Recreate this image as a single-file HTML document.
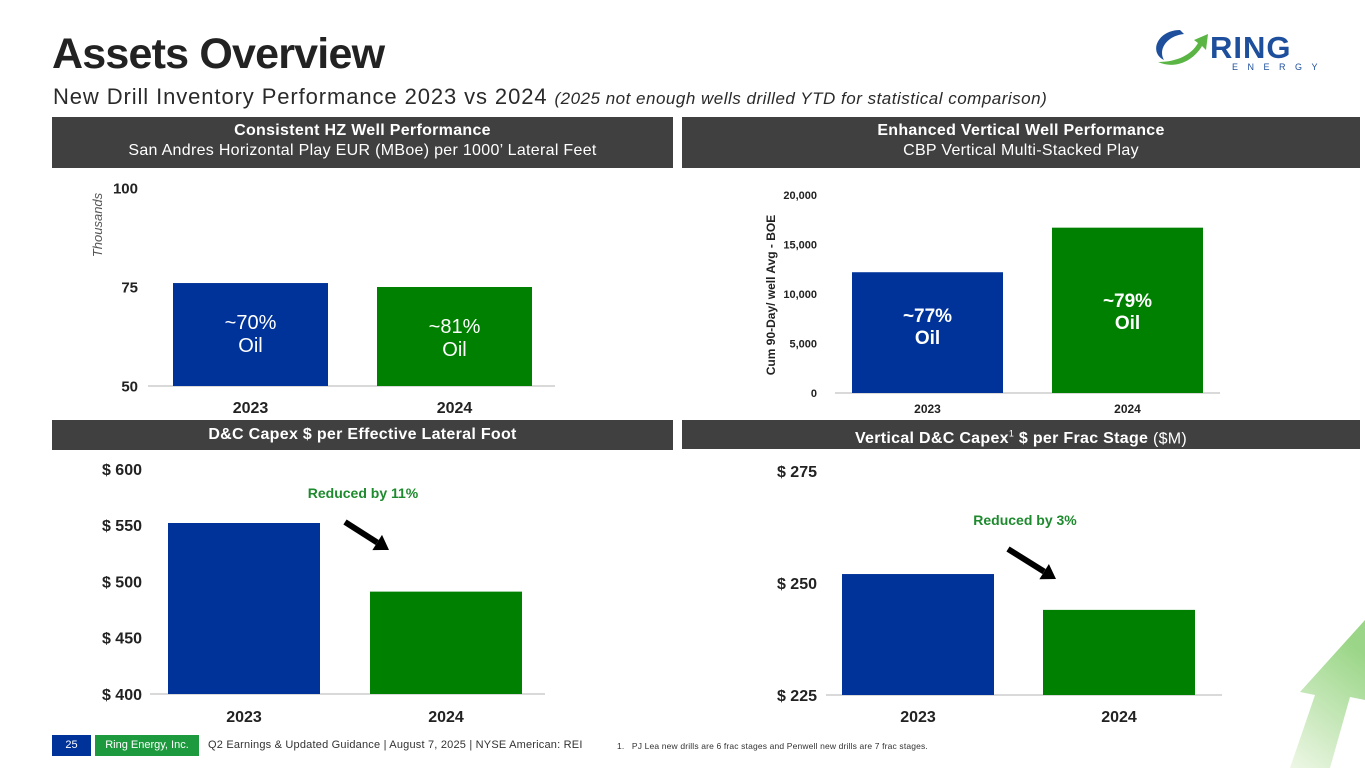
<!DOCTYPE html>
<html><head><meta charset="utf-8">
<style>
body{margin:0;width:1365px;height:768px;overflow:hidden;background:#fff;font-family:"Liberation Sans",sans-serif;position:relative}
.abs{position:absolute}
.hdr{position:absolute;background:#404040;color:#fff;text-align:center;font-size:16px;line-height:20px;letter-spacing:0.3px}
svg text{font-family:"Liberation Sans",sans-serif}
</style></head><body>
<div class="abs" style="left:52px;top:30px;font-size:43px;font-weight:bold;color:#222;letter-spacing:-0.8px">Assets Overview</div>
<div class="abs" style="left:53px;top:84px;font-size:22px;color:#2a2a2a;letter-spacing:0.9px;white-space:nowrap">New Drill Inventory Performance 2023 vs 2024 <i style="font-size:17px;letter-spacing:0.5px">(2025 not enough wells drilled YTD for statistical comparison)</i></div>

<svg class="abs" style="left:1150px;top:22px" width="180" height="52">
<path d="M30 8 C8 8 -2 30 14 38 C8 28 16 14 34 12 Z" fill="#1d4f9c"/>
<path d="M8 40 C26 48 44 38 52 24 L56 28 L58 12 L44 18 L48 21 C42 32 28 40 8 40 Z" fill="#5ab544"/>
<text x="60" y="36" font-size="31" font-weight="bold" fill="#1d4f9c" letter-spacing="1">RING</text>
<text x="82" y="48" font-size="9" fill="#1d4f9c" letter-spacing="9.5">ENERGY</text>
</svg>

<div class="hdr" style="left:52px;top:117px;width:621px;height:51px;padding-top:4px;box-sizing:border-box"><b>Consistent HZ Well Performance</b><br>San Andres Horizontal Play EUR (MBoe) per 1000’ Lateral Feet</div>
<div class="hdr" style="left:682px;top:117px;width:678px;height:51px;padding-top:4px;box-sizing:border-box"><b>Enhanced Vertical Well Performance</b><br>CBP Vertical Multi-Stacked Play</div>
<div class="hdr" style="left:52px;top:420px;width:621px;height:30px;line-height:30px"><b>D&amp;C Capex $ per Effective Lateral Foot</b></div>
<div class="hdr" style="left:682px;top:420px;width:678px;height:29px;line-height:29px"><b>Vertical D&amp;C Capex<sup style="font-size:9px;font-weight:normal">1</sup> $ per Frac Stage</b> ($M)</div>

<svg class="abs" style="left:1270px;top:600px" width="95" height="168">
<defs><linearGradient id="ga" x1="0" y1="1" x2="0.4" y2="0"><stop offset="0" stop-color="#eef7e6"/><stop offset="1" stop-color="#9bd688"/></linearGradient></defs>
<polygon points="20,168 45,95 30,92 95,20 95,100 80,97 60,168" fill="url(#ga)"/>
</svg>

<svg id="chart" class="abs" style="left:0;top:0" width="1365" height="768"></svg>

<div class="abs" style="left:52px;top:735px;width:39px;height:21px;background:#003399;color:#fff;font-size:11px;line-height:21px;text-align:center">25</div>
<div class="abs" style="left:95px;top:735px;width:104px;height:21px;background:#1e9a3e;color:#fff;font-size:11px;line-height:21px;text-align:center">Ring Energy, Inc.</div>
<div class="abs" style="left:208px;top:739px;font-size:11px;letter-spacing:0.2px;color:#333;white-space:nowrap">Q2 Earnings &amp; Updated Guidance | August 7, 2025 | NYSE American: REI</div>
<div class="abs" style="left:617px;top:741px;font-size:8.5px;letter-spacing:0.15px;color:#333;white-space:nowrap">1.&nbsp;&nbsp;&nbsp;PJ Lea new drills are 6 frac stages and Penwell new drills are 7 frac stages.</div>

<script>
const years = ["2023","2024"];
const hzValues = [76.0, 75.0];
const hzTicks = [50, 75, 100];
const hzLabels = ["~70%|Oil", "~81%|Oil"];
const vertValues = [12200, 16700];
const vertTicks = [0, 5000, 10000, 15000, 20000];
const vertLabels = ["~77%|Oil", "~79%|Oil"];
const capexValues = [552, 491];
const capexTicks = [400, 450, 500, 550, 600];
const fracValues = [252, 244];
const fracTicks = [225, 250, 275];

const NS = "http://www.w3.org/2000/svg";
const svg = document.getElementById("chart");
function mk(tag, attrs, parent){const e=document.createElementNS(NS,tag);for(const k in attrs)e.setAttribute(k,attrs[k]);(parent||svg).appendChild(e);return e;}
const colors=["#003399","#008000"];

function drawChart(cfg, values, ticks, labels){
  const g=mk("g",{});
  
  
  const y=v=>cfg.y0-(v-cfg.min)/(cfg.max-cfg.min)*(cfg.y0-cfg.y1);
  mk("line",{x1:cfg.lx1,x2:cfg.lx2,y1:cfg.y0,y2:cfg.y0,stroke:"#d9d9d9","stroke-width":2},g);
  ticks.forEach(t=>{
    const tx=mk("text",{x:cfg.tickX,y:y(t)+cfg.tickFs*0.36,"text-anchor":"end","font-size":cfg.tickFs,"font-weight":"bold",fill:"#222"},g);
    
    
    tx.textContent=cfg.fmt(t);
  });
  values.forEach((v,i)=>{
    const x=cfg.bx[i], top=y(v);
    const r=mk("rect",{x:x,y:top,width:cfg.bw,height:cfg.y0-top,fill:colors[i]},g);
    
    
    const xl=mk("text",{x:x+cfg.bw/2,y:cfg.xlY,"text-anchor":"middle","font-size":cfg.xlFs,"font-weight":"bold",fill:"#222"},g);
    
    
    xl.textContent=years[i];
    if(labels){
      const parts=labels[i].split("|");
      const lyc=cfg.labelY[i];
      parts.forEach((p,j)=>{
        const lt=mk("text",{x:x+cfg.bw/2,y:lyc+j*cfg.labFs*1.15,"text-anchor":"middle","font-size":cfg.labFs,"font-weight":cfg.labW,fill:"#fff"},g);
        
        
        lt.textContent=p;
      });
    }
  });
}

drawChart({name:"hz-eur-chart",min:50,max:100,y0:386,y1:188,lx1:148,lx2:555,tickX:138,tickFs:15,bx:[173,377],bw:155,xlY:413,xlFs:16,labelY:[329,333],labFs:20,labW:"normal",fmt:t=>String(t)},hzValues,hzTicks,hzLabels);
drawChart({name:"vertical-cum-chart",min:0,max:20000,y0:393,y1:195,lx1:835,lx2:1220,tickX:817,tickFs:11,bx:[852,1052],bw:151,xlY:413,xlFs:12,labelY:[322,307],labFs:19,labW:"bold",fmt:t=>t.toLocaleString("en-US")},vertValues,vertTicks,vertLabels);
drawChart({name:"dc-capex-chart",min:400,max:600,y0:694,y1:469,lx1:150,lx2:545,tickX:142,tickFs:16,bx:[168,370],bw:152,xlY:722,xlFs:16,labelY:null,fmt:t=>"$ "+t},capexValues,capexTicks,null);
drawChart({name:"frac-stage-chart",min:225,max:275,y0:695,y1:471,lx1:826,lx2:1222,tickX:817,tickFs:16,bx:[842,1043],bw:152,xlY:722,xlFs:16,labelY:null,fmt:t=>"$ "+t},fracValues,fracTicks,null);

const th=mk("text",{x:0,y:0,"font-size":13,"font-style":"italic",fill:"#555","text-anchor":"middle",transform:"translate(102,225) rotate(-90)"});


th.textContent="Thousands";
const vt=mk("text",{x:0,y:0,"font-size":12,"font-weight":"bold",fill:"#222","text-anchor":"middle",transform:"translate(775,295) rotate(-90)"});


vt.textContent="Cum 90-Day/ well Avg - BOE";

const r1=mk("text",{x:363,y:498,"font-size":14,"font-weight":"bold",fill:"#1e8a2e","text-anchor":"middle"});


r1.textContent="Reduced by 11%";
const r2=mk("text",{x:1025,y:525,"font-size":14,"font-weight":"bold",fill:"#1e8a2e","text-anchor":"middle"});


r2.textContent="Reduced by 3%";
function arrow(x1,y1,x2,y2,name){
  const a=Math.atan2(y2-y1,x2-x1),L=14,W=9;
  const bx=x2-L*Math.cos(a),by=y2-L*Math.sin(a);
  const g=mk("g",{});
  
  
  mk("line",{x1,y1,x2:bx,y2:by,stroke:"#000","stroke-width":6},g);
  mk("polygon",{points:`${x2},${y2} ${bx+W*Math.sin(a)},${by-W*Math.cos(a)} ${bx-W*Math.sin(a)},${by+W*Math.cos(a)}`,fill:"#000"},g);
}
arrow(345,522,389,550,"down-arrow-11");
arrow(1008,549,1056,579,"down-arrow-3");
</script>
</body></html>
